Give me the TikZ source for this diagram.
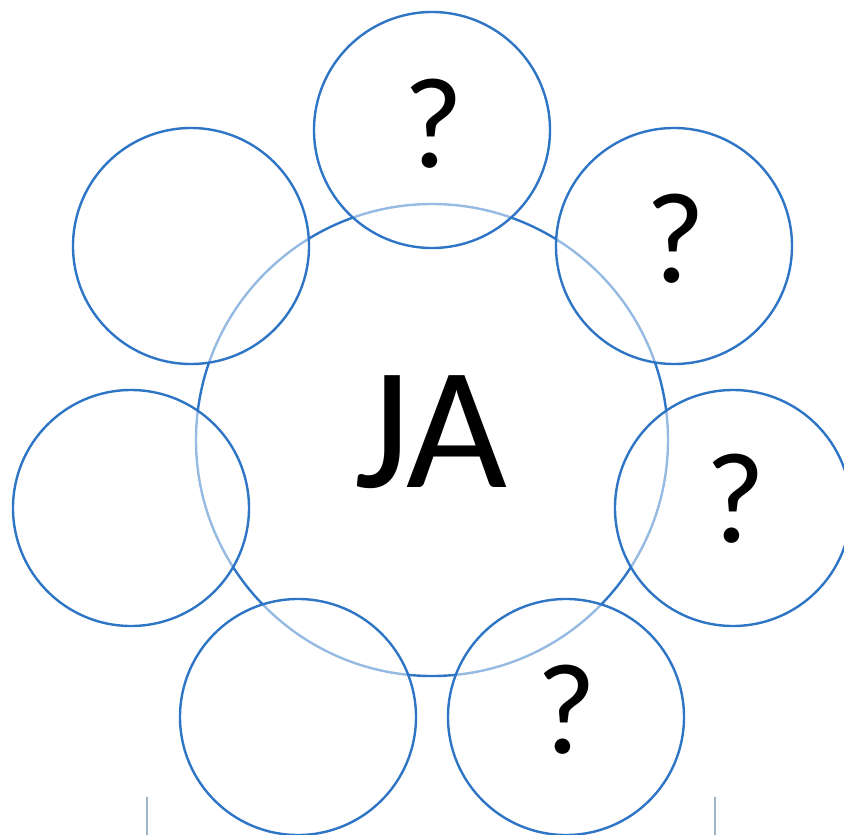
\documentclass[tikz,border=0pt]{standalone}
\usepackage{fontspec}
\setmainfont{Carlito}
\definecolor{ringblue}{HTML}{2E75C6}
\definecolor{tickgray}{HTML}{9FB2C6}
\begin{document}
\begin{tikzpicture}[x=1bp,y=-1bp,
  ring/.style={circle, draw=ringblue, line width=2.4bp, minimum size=236bp, inner sep=0pt, fill=white, fill opacity=0.5, text opacity=1},
  bigring/.style={circle, draw=ringblue, line width=2.4bp, minimum size=472bp, inner sep=0pt},
  qmark/.style={anchor=base, inner sep=0pt, font=\fontsize{130}{130}\selectfont},
  tick/.style={draw=tickgray, line width=2bp}]
\useasboundingbox (0,0) rectangle (844,835);
\clip (0,0) rectangle (844,835);
\node[bigring] (big) at (432,440) {};
\node[ring] (top) at (432,130) {};
\node[ring] (ur) at (674,246) {};
\node[ring] (r) at (733,508) {};
\node[ring] (br) at (566,717) {};
\node[ring] (bl) at (298,717) {};
\node[ring] (l) at (131,508) {};
\node[ring] (ul) at (191,246) {};
\node[anchor=base, inner sep=0pt, font=\fontsize{175}{175}\selectfont] (ja) at (431,487) {JA};
\node[qmark] (q1) at (434,167) {?};
\node[qmark] (q2) at (675,282) {?};
\node[qmark] (q3) at (735,542) {?};
\node[qmark] (q4) at (567,753) {?};
\coordinate (t1a) at (147,797);
\coordinate (t1b) at (147,835);
\coordinate (t2a) at (715,797);
\coordinate (t2b) at (715,835);
\draw[tick] (t1a) -- (t1b);
\draw[tick] (t2a) -- (t2b);
\end{tikzpicture}
\end{document}
